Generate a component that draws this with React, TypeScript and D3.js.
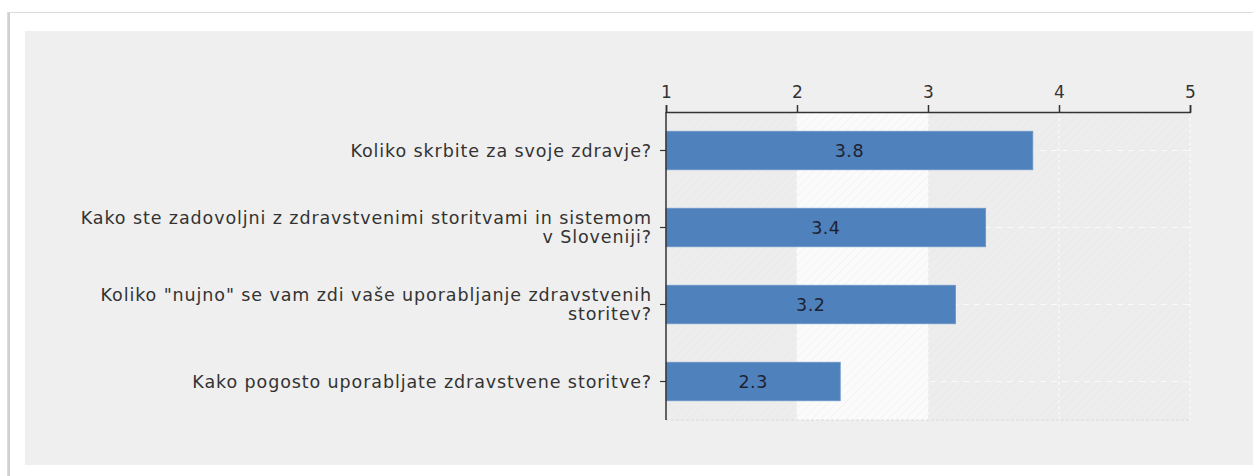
import React, { useEffect, useRef } from "react";
import * as d3 from "d3";

const questions = [
  ["Koliko skrbite za svoje zdravje?"],
  ["Kako ste zadovoljni z zdravstvenimi storitvami in sistemom", "v Sloveniji?"],
  ['Koliko "nujno" se vam zdi vaše uporabljanje zdravstvenih', "storitev?"],
  ["Kako pogosto uporabljate zdravstvene storitve?"],
];
const averages = [3.8, 3.44, 3.21, 2.33];
const xTicks = [1, 2, 3, 4, 5];

export default function App() {
  const svgRef = useRef<SVGSVGElement>(null);

  useEffect(() => {
    const svg = d3.select(svgRef.current);
    svg.selectAll("*").remove();

    const W = 1253;
    const H = 476;
    const font = "DejaVu Sans, Verdana, sans-serif";

    // page frame + gray panel
    svg.append("rect").attr("width", W).attr("height", H).attr("fill", "#fff");
    svg.append("rect").attr("x", 7.5).attr("y", 12.5).attr("width", W).attr("height", H)
      .attr("fill", "#fff").attr("stroke", "#dcdcdc");
    svg.append("line").attr("x1", 9).attr("x2", 9).attr("y1", 13).attr("y2", H)
      .attr("stroke", "#d0d0d0").attr("stroke-width", 2);
    svg.append("rect").attr("x", 25).attr("y", 31).attr("width", W - 25).attr("height", 434)
      .attr("fill", "#efefef");

    const defs = svg.append("defs");
    const hatch = (id: string, bg: string, line: string) => {
      const p = defs.append("pattern").attr("id", id).attr("patternUnits", "userSpaceOnUse")
        .attr("width", 6).attr("height", 6).attr("patternTransform", "rotate(45)");
      p.append("rect").attr("width", 6).attr("height", 6).attr("fill", bg);
      p.append("line").attr("x1", 0).attr("x2", 0).attr("y1", 0).attr("y2", 6)
        .attr("stroke", line).attr("stroke-width", 1.5);
    };
    hatch("hGray", "#ececec", "#f1f1f1");
    hatch("hWhite", "#fbfbfb", "#f2f2f2");

    const left = 666, right = 1190, top = 112, bottom = 420;
    const x = d3.scaleLinear().domain([1, 5]).range([left, right]);
    const y = d3.scaleBand<number>().domain(d3.range(questions.length)).range([top, bottom]).padding(0.5).paddingOuter(0.25);
    const band = d3.scaleBand<number>().domain(d3.range(questions.length)).range([top, bottom]);

    const g = svg.append("g");

    // column backgrounds
    xTicks.slice(0, -1).forEach((t, i) => {
      g.append("rect").attr("x", x(t)).attr("y", top).attr("width", x(t + 1) - x(t))
        .attr("height", bottom - top).attr("fill", i === 1 ? "url(#hWhite)" : "url(#hGray)");
    });

    // grid
    g.selectAll(".vgrid").data(xTicks.slice(1)).join("line")
      .attr("x1", (d) => x(d)).attr("x2", (d) => x(d)).attr("y1", top).attr("y2", bottom)
      .attr("stroke", "#fafafa").attr("stroke-width", 1.2).attr("stroke-dasharray", "3,3");
    g.selectAll(".hgrid").data(d3.range(questions.length)).join("line")
      .attr("x1", left).attr("x2", right)
      .attr("y1", (d) => band(d)! + band.bandwidth() / 2).attr("y2", (d) => band(d)! + band.bandwidth() / 2)
      .attr("stroke", "#fafafa").attr("stroke-width", 1.2).attr("stroke-dasharray", "6,5");
    g.append("line").attr("x1", left).attr("x2", right).attr("y1", bottom).attr("y2", bottom)
      .attr("stroke", "#dadada").attr("stroke-dasharray", "3,2");

    // bars
    g.selectAll(".bar").data(averages).join("rect")
      .attr("x", x(1)).attr("y", (d, i) => y(i)!)
      .attr("width", (d) => x(d) - x(1)).attr("height", y.bandwidth())
      .attr("fill", "#4f81bd").attr("stroke", "#6b95c8").attr("stroke-width", 0.8);
    g.selectAll(".val").data(averages).join("text")
      .attr("x", (d) => (x(1) + x(d)) / 2).attr("y", (d, i) => y(i)! + y.bandwidth() / 2)
      .attr("dy", "0.36em").attr("text-anchor", "middle")
      .attr("font-family", font).attr("font-size", 17.5).attr("letter-spacing", 0.5).attr("fill", "#1e2230")
      .text((d) => d3.format(".1f")(d));

    // top axis
    const xAxis = g.append("g").attr("transform", `translate(0,${top})`)
      .call(d3.axisTop(x).tickValues(xTicks).tickSize(7).tickPadding(7).tickFormat(d3.format("d")));
    xAxis.select(".domain").attr("stroke", "#333").attr("stroke-width", 1.5);
    xAxis.selectAll(".tick line").attr("stroke", "#333").attr("stroke-width", 1.5);
    xAxis.selectAll("text").attr("font-family", font).attr("font-size", 17).attr("fill", "#333");

    // left axis
    g.append("line").attr("x1", left).attr("x2", left).attr("y1", top).attr("y2", bottom)
      .attr("stroke", "#333").attr("stroke-width", 1.5);
    g.selectAll(".ytick").data(d3.range(questions.length)).join("line")
      .attr("x1", left - 6).attr("x2", left)
      .attr("y1", (d) => band(d)! + band.bandwidth() / 2).attr("y2", (d) => band(d)! + band.bandwidth() / 2)
      .attr("stroke", "#333").attr("stroke-width", 1.2);

    const labels = g.selectAll(".ylab").data(questions).join("text")
      .attr("text-anchor", "end").attr("font-family", font).attr("font-size", 17.5)
      .attr("letter-spacing", 0.9).attr("fill", "#333");
    labels.each(function (lines, i) {
      const cy = band(i)! + band.bandwidth() / 2;
      const t = d3.select(this);
      lines.forEach((ln, j) => {
        t.append("tspan").attr("x", left - 14)
          .attr("y", cy + (j - (lines.length - 1) / 2) * 19)
          .attr("dy", "0.36em").text(ln);
      });
    });
  }, []);

  return (
    <svg ref={svgRef} width={1253} height={476}
      style={{ position: "absolute", left: 0, top: 0, display: "block" }} />
  );
}
